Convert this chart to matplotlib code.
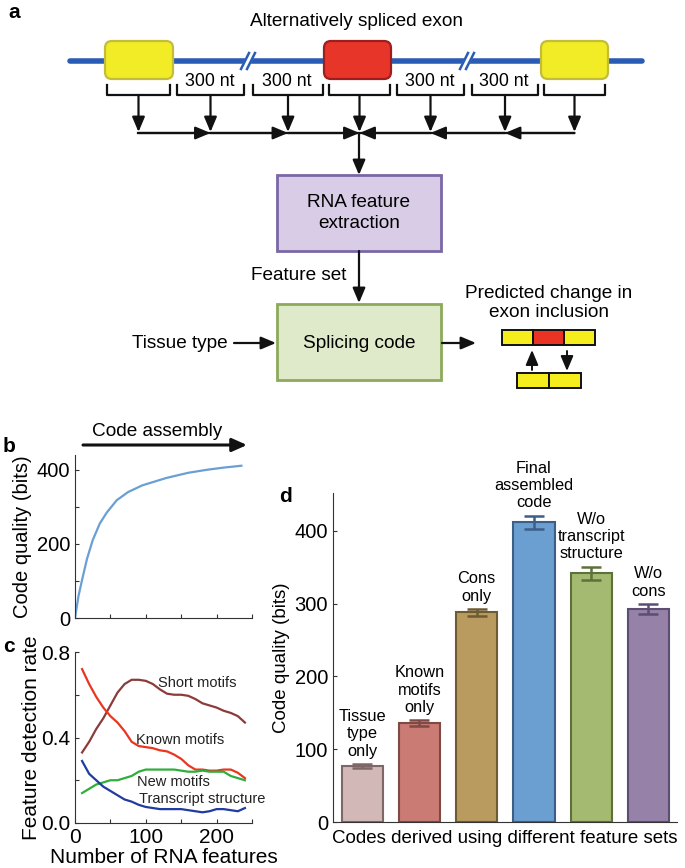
import matplotlib
matplotlib.use("Agg")
import matplotlib.pyplot as plt
from matplotlib.patches import FancyBboxPatch, Rectangle

plt.rcParams['font.family'] = ['Liberation Sans', 'DejaVu Sans']
plt.rcParams['xtick.direction'] = 'in'
plt.rcParams['ytick.direction'] = 'in'

# ---- data ----
# panel b: code quality vs number of features
n_feat_b = [0, 5, 10, 17, 25, 35, 45, 59, 75, 95, 129, 160, 186, 210, 235]
quality_b = [0, 60, 103, 160, 210, 255, 285, 318, 340, 358, 378, 392, 400, 406, 411]

# panel c: feature detection rate
n_feat_c = [10, 20, 30, 40, 50, 60, 70, 80, 90, 100, 110, 120, 130, 140, 150, 160,
            170, 180, 190, 200, 210, 220, 230, 240]
short_motifs = [0.33, 0.38, 0.44, 0.49, 0.55, 0.61, 0.65, 0.67, 0.67, 0.665, 0.65, 0.625,
                0.605, 0.60, 0.60, 0.595, 0.58, 0.56, 0.55, 0.54, 0.525, 0.515, 0.50, 0.47]
known_motifs = [0.72, 0.65, 0.59, 0.54, 0.50, 0.47, 0.43, 0.38, 0.36, 0.355, 0.35, 0.34,
                0.335, 0.32, 0.30, 0.27, 0.25, 0.25, 0.245, 0.245, 0.25, 0.25, 0.235, 0.21]
new_motifs = [0.14, 0.16, 0.18, 0.19, 0.20, 0.20, 0.21, 0.22, 0.24, 0.25, 0.25, 0.25,
              0.25, 0.25, 0.245, 0.24, 0.24, 0.245, 0.24, 0.24, 0.24, 0.22, 0.21, 0.20]
transcript = [0.29, 0.23, 0.20, 0.17, 0.15, 0.13, 0.11, 0.10, 0.085, 0.075, 0.07, 0.065,
              0.065, 0.065, 0.065, 0.06, 0.055, 0.05, 0.055, 0.065, 0.065, 0.06, 0.055, 0.07]

# panel d: code quality per feature set
d_labels = ["Tissue\ntype\nonly", "Known\nmotifs\nonly", "Cons\nonly", "Final\nassembled\ncode",
            "W/o\ntranscript\nstructure", "W/o\ncons"]
d_values = [77, 136, 288, 412, 342, 293]
d_errs = [3, 4, 5, 9, 9, 7]
d_fill = ['#d3b8b8', '#c97b74', '#b99b5f', '#6b9ed1', '#a4ba70', '#9682a9']
d_edge = ['#7e6767', '#7d4a45', '#6d5b31', '#3c5f88', '#5e703b', '#5b4e72']

W, H = 685, 868
fig = plt.figure(figsize=(W / 100, H / 100), dpi=100)

# ---- panel a: diagram in pixel coords ----
ax0 = fig.add_axes([0, 0, 1, 1])
ax0.set_xlim(0, W)
ax0.set_ylim(H, 0)
ax0.axis('off')

def arrow(x0, y0, x1, y1, lw=1.6):
    ax0.annotate('', xy=(x1, y1), xytext=(x0, y0),
                 arrowprops=dict(arrowstyle='-|>,head_length=0.9,head_width=0.38',
                                 color='#111111', lw=lw, shrinkA=0, shrinkB=0))

fs_a = 13.7
ax0.text(357, 22, 'Alternatively spliced exon', ha='center', va='center', fontsize=fs_a)

blue = '#2b5cb5'
ax0.plot([70, 642], [61, 61], color=blue, lw=4, solid_capstyle='round', zorder=1)
for bx in [248, 467]:
    ax0.plot([bx - 4, bx + 4], [69, 53], color='white', lw=5, zorder=2)
    ax0.plot([bx - 7, bx + 1], [69, 53], color=blue, lw=1.8, zorder=3)
    ax0.plot([bx - 1, bx + 7], [69, 53], color=blue, lw=1.8, zorder=3)

for (x0, x1, fc, ec) in [(105, 173, '#f2ec26', '#c4bd3a'), (324, 391, '#e8352a', '#9e1e1e'),
                         (541, 608, '#f2ec26', '#c4bd3a')]:
    ax0.add_patch(FancyBboxPatch((x0, 41), x1 - x0, 38, boxstyle='round,pad=0,rounding_size=7',
                                 fc=fc, ec=ec, lw=1.6, zorder=4))

for x in [210, 287, 430, 504]:
    ax0.text(x, 82, '300 nt', ha='center', va='center', fontsize=12.8)

segments = [(105, 172), (175, 246), (251, 325), (327, 392), (395, 466), (470, 540), (542, 607)]
for (x0, x1) in segments:
    xc = (x0 + x1) / 2
    ax0.plot([x0 + 2, x0 + 2, x1 - 2, x1 - 2], [85, 95, 95, 85], color='#111111', lw=1.6)
    arrow(xc, 95, xc, 132)

centers = [(x0 + x1) / 2 for (x0, x1) in segments]
ax0.plot([centers[0], centers[-1]], [133, 133], color='#111111', lw=1.6)
for i in range(3):
    arrow(centers[i], 133, centers[i + 1], 133)
    arrow(centers[6 - i], 133, centers[5 - i], 133)
arrow(359, 133, 359, 175)

ax0.add_patch(Rectangle((277, 175), 164, 76, fc='#d8cce6', ec='#7a67a5', lw=2))
ax0.text(359, 213, 'RNA feature\nextraction', ha='center', va='center', fontsize=fs_a,
         linespacing=1.3)
arrow(359, 251, 359, 303)
ax0.text(346, 275, 'Feature set', ha='right', va='center', fontsize=fs_a)

ax0.add_patch(Rectangle((277, 304), 164, 76, fc='#dfeaca', ec='#8ca95c', lw=2))
ax0.text(359, 343, 'Splicing code', ha='center', va='center', fontsize=fs_a)
ax0.text(228, 343, 'Tissue type', ha='right', va='center', fontsize=fs_a)
arrow(234, 343, 276, 343)
arrow(442, 343, 476, 343)
ax0.text(549, 303, 'Predicted change in\nexon inclusion', ha='center', va='center',
         fontsize=fs_a, linespacing=1.15)

for (x0, x1, fc) in [(502, 533, '#f5ee1c'), (533, 564, '#ea3323'), (564, 595, '#f5ee1c')]:
    ax0.add_patch(Rectangle((x0, 330), x1 - x0, 15, fc=fc, ec='#111111', lw=1.4))
for (x0, x1) in [(517, 549), (549, 581)]:
    ax0.add_patch(Rectangle((x0, 373), x1 - x0, 15, fc='#f5ee1c', ec='#111111', lw=1.4))
arrow(532, 370, 532, 350, lw=1.4)
arrow(567, 351, 567, 371, lw=1.4)

ax0.text(8, 12, 'a', fontsize=15, fontweight='bold', ha='left', va='center')
ax0.text(3, 447, 'b', fontsize=15, fontweight='bold', ha='left', va='center')
ax0.text(3, 646, 'c', fontsize=15, fontweight='bold', ha='left', va='center')
ax0.text(279, 497, 'd', fontsize=15, fontweight='bold', ha='left', va='center')

ax0.text(157, 431, 'Code assembly', ha='center', va='center', fontsize=fs_a)
ax0.annotate('', xy=(247, 445), xytext=(83, 445),
             arrowprops=dict(arrowstyle='-|>,head_length=0.9,head_width=0.4',
                             color='#111111', lw=2.2, shrinkA=0, shrinkB=0))

def fig_rect(l, r, t, b):
    return [l / W, 1 - b / H, (r - l) / W, (b - t) / H]

def style(ax):
    for s in ['top', 'right']:
        ax.spines[s].set_visible(False)
    for s in ['left', 'bottom']:
        ax.spines[s].set_color('#333333')
        ax.spines[s].set_linewidth(0.8)
    ax.tick_params(length=3, width=0.8, color='#333333')

# ---- panel b ----
axb = fig.add_axes(fig_rect(75, 252, 455, 618))
axb.plot(n_feat_b, quality_b, color='#6a9fd6', lw=1.6)
axb.set_xlim(0, 250)
axb.set_ylim(0, 440)
axb.set_xticks([0, 50, 100, 150, 200, 250])
axb.set_xticklabels([])
axb.set_yticks([0, 100, 200, 300, 400])
axb.set_yticklabels(['0', '', '200', '', '400'], fontsize=14.5)
axb.set_ylabel('Code quality (bits)', fontsize=14.5, labelpad=3)
style(axb)

# ---- panel c ----
axc = fig.add_axes(fig_rect(75, 252, 652, 823))
axc.plot(n_feat_c, short_motifs, color='#8c3b3b', lw=1.6)
axc.plot(n_feat_c, known_motifs, color='#ea3520', lw=1.6)
axc.plot(n_feat_c, new_motifs, color='#2fae3c', lw=1.6)
axc.plot(n_feat_c, transcript, color='#1f3c9e', lw=1.6)
axc.text(117, 0.655, 'Short motifs', fontsize=10.5, ha='left', va='center', color='#222222')
axc.text(86, 0.39, 'Known motifs', fontsize=10.5, ha='left', va='center', color='#222222')
axc.text(88, 0.19, 'New motifs', fontsize=10.5, ha='left', va='center', color='#222222')
axc.text(90, 0.11, 'Transcript structure', fontsize=10.5, ha='left', va='center',
         color='#222222', clip_on=False)
axc.set_xlim(0, 250)
axc.set_ylim(0, 0.8)
axc.set_xticks([0, 50, 100, 150, 200, 250])
axc.set_xticklabels(['0', '', '100', '', '200', ''], fontsize=15)
axc.set_yticks([0, 0.2, 0.4, 0.6, 0.8])
axc.set_yticklabels(['0.0', '', '0.4', '', '0.8'], fontsize=15)
axc.set_xlabel('Number of RNA features', fontsize=15, labelpad=1)
axc.set_ylabel('Feature detection rate', fontsize=15, labelpad=0)
style(axc)

# ---- panel d ----
axd = fig.add_axes(fig_rect(333, 677, 493, 822))
pos = list(range(1, len(d_values) + 1))
axd.bar(pos, d_values, width=0.72, color=d_fill, edgecolor=d_edge, linewidth=1.5)
for p, v, e, c, lab in zip(pos, d_values, d_errs, d_edge, d_labels):
    axd.errorbar(p, v, yerr=e, color=c, capsize=7, capthick=1.8, elinewidth=1.8)
    axd.text(p, v + e + 7, lab, ha='center', va='bottom', fontsize=11.8,
             linespacing=1.2, clip_on=False)
axd.set_xlim(0.49, 6.5)
axd.set_ylim(0, 452)
axd.set_xticks([])
axd.set_yticks([0, 100, 200, 300, 400])
axd.set_yticklabels(['0', '100', '200', '300', '400'], fontsize=14.5)
axd.set_ylabel('Code quality (bits)', fontsize=13.5, labelpad=3)
axd.set_xlabel('Codes derived using different feature sets', fontsize=13.5, labelpad=6)
style(axd)

fig.savefig('out.png', dpi=100)
